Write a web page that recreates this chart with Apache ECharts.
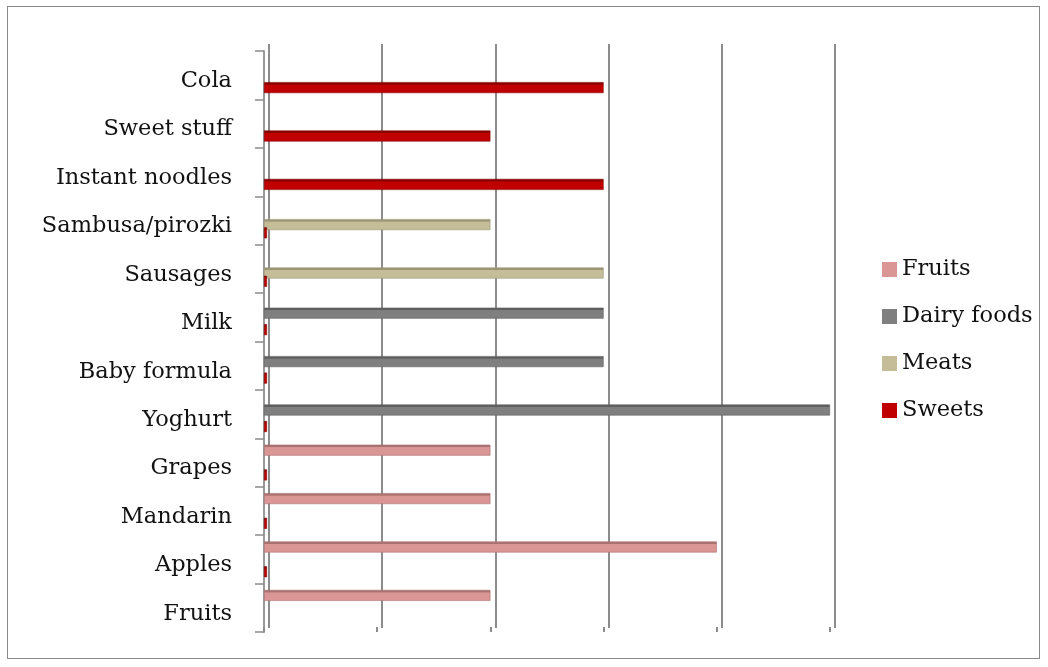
<!DOCTYPE html>
<html>
<head>
<meta charset="utf-8">
<script src="https://cdn.jsdelivr.net/npm/echarts@6/dist/echarts.min.js"></script>
<style>
html,body{margin:0;padding:0;background:#fff;}
#wrap{position:relative;width:1048px;height:667px;}
#frame{position:absolute;left:7px;top:6px;width:1033px;height:653px;border:1px solid #8a8a8a;box-sizing:border-box;}
#chart{position:absolute;left:0;top:0;width:1048px;height:667px;}
</style>
</head>
<body>
<div id="wrap"><div id="frame"></div><div id="chart"></div></div>
<script>
const categories = ['Fruits','Apples','Mandarin','Grapes','Yoghurt','Baby formula','Milk','Sausages','Sambusa/pirozki','Instant noodles','Sweet stuff','Cola'];
const fruits = [2, 4, 2, 2, '-', '-', '-', '-', '-', '-', '-', '-'];
const dairy  = ['-', '-', '-', '-', 5, 3, 3, '-', '-', '-', '-', '-'];
const meats  = ['-', '-', '-', '-', '-', '-', '-', 3, 2, '-', '-', '-'];
const sweets = ['-', 0, 0, 0, 0, 0, 0, 0, 0, 3, 2, 3];
const xTicks = [0, 1, 2, 3, 4, 5];
const seriesNames = ['Fruits','Dairy foods','Meats','Sweets'];

const FONT = 'DejaVu Serif';
const FS = 22.5;
const mainColors = ['#D99694','#7F7F7F','#C4BD97','#C00000'];
const topColors  = ['#A97170','#5F5F5F','#9C9677','#8A0000'];
function shade(top, main){
  return {type:'linear',x:0,y:0,x2:0,y2:1,colorStops:[
    {offset:0,color:top},{offset:0.2,color:top},{offset:0.26,color:main},{offset:1,color:main}]};
}
const chart = echarts.init(document.getElementById('chart'), null, {renderer:'canvas'});
const datas = [fruits, dairy, meats, sweets];
const series = seriesNames.map((name, i) => Object.assign({
  name, type:'bar', data:datas[i], xAxisIndex:0, yAxisIndex:0,
  barWidth:11, barGap:'-25%', barCategoryGap:'20%',
  itemStyle:{color:shade(topColors[i], mainColors[i]), borderColor:topColors[i], borderWidth:0.6},
  emphasis:{disabled:true}, animation:false
}, i === 3 ? {barMinHeight:3} : {}));
chart.setOption({
  animation:false,
  color:mainColors,
  textStyle:{fontFamily:FONT},
  legend:{
    orient:'vertical', left:877, top:253, itemWidth:15, itemHeight:15, itemGap:24,
    icon:'rect',
    textStyle:{fontFamily:FONT, fontSize:FS, color:'#111'},
    data:seriesNames.map((n, i) => ({name:n, itemStyle:{color:mainColors[i], borderWidth:0}}))
  },
  grid:[
    {left:264, top:51, width:566, height:581},
    {left:269, top:44, width:566, height:584}
  ],
  xAxis:[
    {gridIndex:0, type:'value', min:0, max:5, interval:1,
     axisLine:{show:false},
     axisTick:{show:true, inside:true, length:5, lineStyle:{color:'#8c8c8c', width:2}},
     axisLabel:{show:false}, splitLine:{show:false}},
    {gridIndex:1, type:'value', min:xTicks[0], max:xTicks[xTicks.length-1], interval:1,
     axisLine:{show:false}, axisTick:{show:false}, axisLabel:{show:false},
     splitLine:{show:true, lineStyle:{color:'#8c8c8c', width:2}}}
  ],
  yAxis:[
    {gridIndex:0, type:'category', data:categories,
     axisLine:{show:true, lineStyle:{color:'#9a9a9a', width:2}},
     axisTick:{show:true, length:9, lineStyle:{color:'#8c8c8c', width:1.5}},
     axisLabel:{fontFamily:FONT, fontSize:FS, color:'#111', margin:32,
       formatter: v => '{a|' + v + '}',
       rich:{a:{fontFamily:FONT, fontSize:FS, color:'#111', padding:[12,0,0,0]}}},
     splitLine:{show:false}},
    {gridIndex:1, type:'category', data:categories, show:false}
  ],
  series
});
</script>
</body>
</html>
